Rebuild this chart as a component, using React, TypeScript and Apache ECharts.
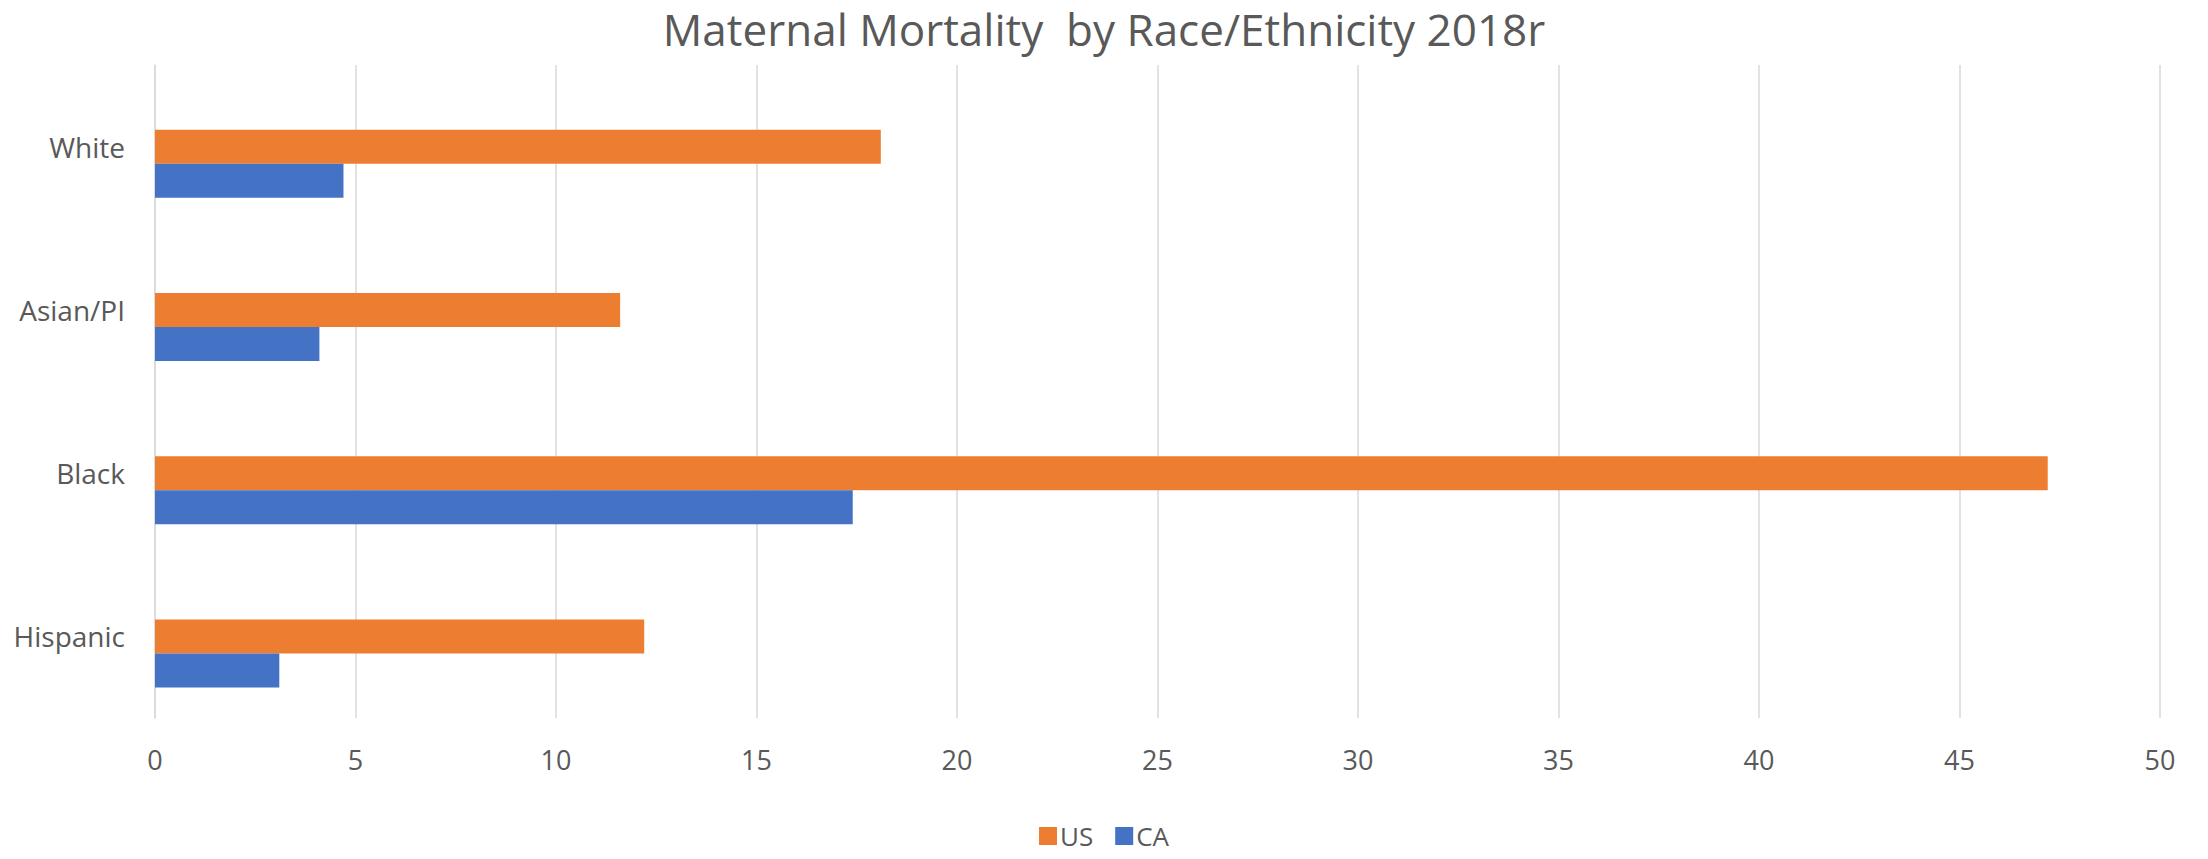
import React, { useEffect, useRef } from "react";
import * as echarts from "echarts";

const categories = ["White", "Asian/PI", "Black", "Hispanic"];
const usValues = [18.1, 11.6, 47.2, 12.2];
const caValues = [4.7, 4.1, 17.4, 3.1];
const spacerValues: (number | null)[] = [null, null, null, null];
const xTicks = { min: 0, max: 50, interval: 5 };

const FONT = "'Open Sans', 'Noto Sans', sans-serif";
const TEXT = "#595959";

export default function App() {
  const ref = useRef<HTMLDivElement>(null);
  useEffect(() => {
    document.body.style.margin = "0";
    if (!ref.current) return;
    const chart = echarts.init(ref.current, undefined, { renderer: "svg" });
    chart.setOption({
      animation: false,
      backgroundColor: "#ffffff",
      title: {
        text: "Maternal Mortality  by Race/Ethnicity 2018r",
        left: "center",
        top: 2,
        textStyle: { fontFamily: FONT, fontSize: 44, fontWeight: "normal", color: TEXT },
      },
      legend: {
        data: ["US", "CA"],
        left: "center",
        top: 818,
        icon: "rect",
        itemWidth: 18,
        itemHeight: 18,
        itemGap: 22,
        textStyle: { fontFamily: FONT, fontSize: 26, lineHeight: 26, color: TEXT, padding: [0, 0, 0, -2] },
      },
      grid: { left: 155, right: 48, top: 65, bottom: 141, containLabel: false },
      xAxis: {
        type: "value",
        min: xTicks.min,
        max: xTicks.max,
        interval: xTicks.interval,
        axisLine: { show: false },
        axisTick: { show: false },
        splitLine: { show: true, lineStyle: { color: "#d9d9d9", width: 1.5 } },
        axisLabel: { fontFamily: FONT, fontSize: 27, color: TEXT, margin: 28 },
      },
      yAxis: {
        type: "category",
        data: categories,
        inverse: true,
        axisLine: { show: true, lineStyle: { color: "#d9d9d9", width: 1.5 } },
        axisTick: { show: false },
        axisLabel: { fontFamily: FONT, fontSize: 28, color: TEXT, margin: 30 },
      },
      series: [
        {
          name: "_spacer",
          type: "bar",
          data: spacerValues,
          barWidth: 34,
          barGap: "0%",
          silent: true,
        },
        {
          name: "US",
          type: "bar",
          data: usValues,
          barWidth: 34,
          barGap: "0%",
          itemStyle: { color: "#ED7D31" },
        },
        {
          name: "CA",
          type: "bar",
          data: caValues,
          barWidth: 34,
          barGap: "0%",
          itemStyle: { color: "#4472C4" },
        },
      ],
    });
    return () => chart.dispose();
  }, []);
  return <div ref={ref} style={{ width: 2208, height: 859 }} />;
}
